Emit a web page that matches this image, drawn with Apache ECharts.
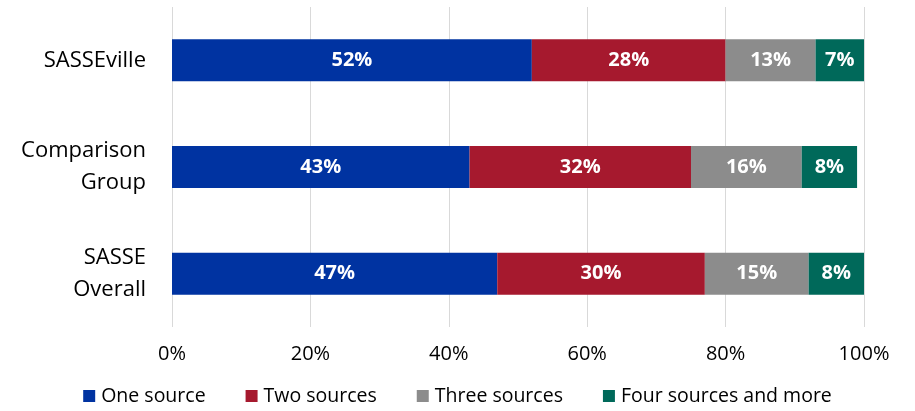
<!DOCTYPE html>
<html><head><meta charset="utf-8">
<script src="https://cdn.jsdelivr.net/npm/echarts@6/dist/echarts.min.js"></script>
<style>html,body{margin:0;padding:0;background:#fff}#c{width:915px;height:411px}</style>
</head><body><div id="c"></div>
<script>
const categories = ["SASSE\nOverall", "Comparison\nGroup", "SASSEville"];
const seriesNames = ["One source", "Two sources", "Three sources", "Four sources and more"];
const oneSource = [47, 43, 52];
const twoSources = [30, 32, 28];
const threeSources = [15, 16, 13];
const fourSources = [8, 8, 7];
const tickLabels = ["0%", "20%", "40%", "60%", "80%", "100%"];
const colors = ["#0033A1", "#A6192E", "#8C8C8C", "#00695A"];
const values = [oneSource, twoSources, threeSources, fourSources];
const font = "Open Sans";
const chart = echarts.init(document.getElementById('c'));
chart.setOption({
  animation: false,
  textStyle: {fontFamily: font},
  grid: {left: 172, right: 51, top: 7, bottom: 84, containLabel: false},
  legend: {
    bottom: 0, left: 'center', itemWidth: 12, itemHeight: 12, itemGap: 40,
    icon: 'rect',
    textStyle: {fontFamily: font, fontSize: 19.5, color: '#000', padding: [0, 0, 0, 1]},
    data: seriesNames
  },
  xAxis: {
    type: 'value', min: 0, max: 100, interval: 20,
    axisLine: {show: false}, axisTick: {show: false},
    splitLine: {lineStyle: {color: '#D9D9D9', width: 1}},
    axisLabel: {fontFamily: font, fontSize: 20, color: '#000', margin: 17,
      formatter: v => tickLabels[v / 20]}
  },
  yAxis: {
    type: 'category', data: categories,
    axisLine: {show: false}, axisTick: {show: false},
    axisLabel: {fontFamily: font, fontSize: 22, color: '#000', margin: 26, lineHeight: 32, align: 'right'}
  },
  series: seriesNames.map((n, i) => ({
    name: n, type: 'bar', stack: 'a', barWidth: 42,
    itemStyle: {color: colors[i]},
    label: {show: true, position: 'inside', color: '#fff', fontWeight: 'bold', fontSize: 20, fontFamily: font,
      formatter: p => p.value + '%'},
    data: values[i]
  }))
});
</script></body></html>
